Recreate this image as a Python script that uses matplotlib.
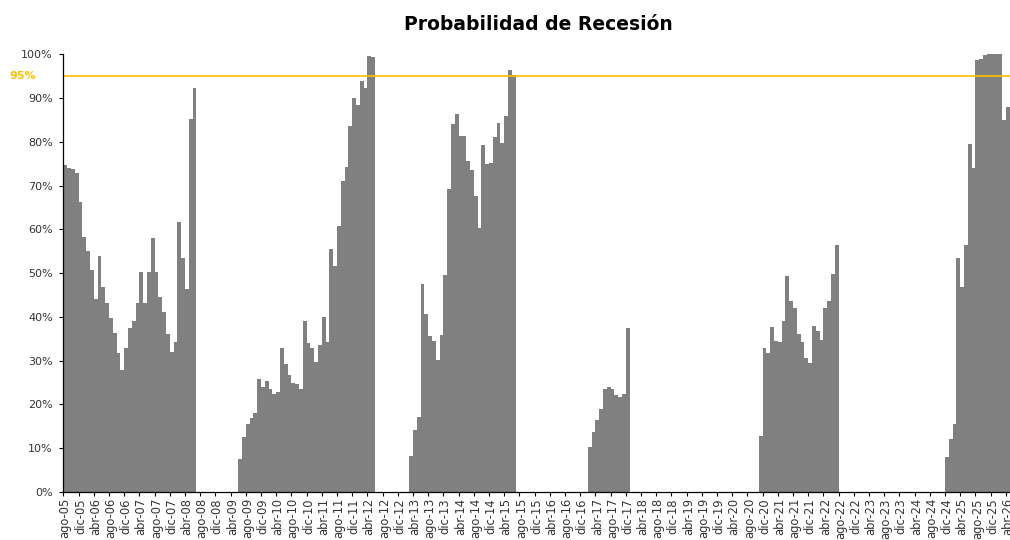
import numpy as np
import matplotlib.pyplot as plt

meses = ["ene", "feb", "mar", "abr", "may", "jun", "jul", "ago", "sep", "oct", "nov", "dic"]

# months from ago-05 to abr-26
n_meses = 249
fechas = []
for k in range(n_meses):
    m = (7 + k) % 12
    a = 2005 + (7 + k) // 12
    fechas.append(f"{meses[m]}-{a % 100:02d}")

# recession probability episodes (%), each one starts at the given month
prob_2005 = [74.7, 73.9, 73.7, 72.9, 66.2, 58.2, 55.1, 50.7, 44.0, 53.8,
             46.7, 43.2, 39.7, 36.2, 31.7, 27.8, 32.8, 37.5, 39.0, 43.2,
             50.3, 43.1, 50.3, 57.9, 50.3, 44.6, 41.2, 36.0, 32.0, 34.2,
             61.7, 53.4, 46.3, 85.1, 92.4]
prob_2009 = [7.5, 12.5, 15.5, 16.9, 17.9, 25.8, 24.0, 25.4, 23.6, 22.4,
             22.7, 32.8, 29.2, 26.7, 24.9, 24.6, 23.4, 39.1, 34.1, 32.8,
             29.7, 33.5, 39.9, 34.3, 55.5, 51.6, 60.8, 71.1, 74.2, 83.5,
             89.9, 88.5, 94.0, 92.4, 99.6, 99.3]
prob_2013 = [8.2, 14.1, 17.2, 47.4, 40.6, 35.6, 34.5, 30.1, 35.9, 49.5,
             69.2, 84.1, 86.4, 81.3, 81.3, 75.5, 73.6, 67.5, 60.4, 79.2,
             74.9, 75.2, 81.0, 84.3, 79.7, 85.9, 96.5, 95.3]
prob_2017 = [10.3, 13.7, 16.3, 18.9, 23.4, 24.0, 23.5, 22.2, 21.7, 22.3, 37.5]
prob_2020 = [12.7, 32.9, 31.8, 37.6, 34.5, 34.3, 39.0, 49.3, 43.5, 41.9,
             36.0, 34.2, 30.5, 29.4, 38.0, 36.8, 34.6, 41.9, 43.6, 49.7, 56.5]
prob_2024 = [8.0, 12.1, 15.5, 53.5, 46.9, 56.3, 79.4, 73.9, 98.7, 98.9,
             99.8, 100, 100, 100, 100, 85.0, 88.0]

episodios = [("ago-05", prob_2005), ("jun-09", prob_2009), ("mar-13", prob_2013),
             ("feb-17", prob_2017), ("nov-20", prob_2020), ("dic-24", prob_2024)]

umbral = 95

valores = np.zeros(n_meses)
for inicio, vals in episodios:
    i0 = fechas.index(inicio)
    valores[i0:i0 + len(vals)] = vals

fig = plt.figure(figsize=(10.1, 5.4), dpi=100)
ax = fig.add_axes([63.3 / 1010, 48.2 / 540, 1 - 63.3 / 1010, 437.5 / 540])

x = np.arange(n_meses)
ax.bar(x, valores, width=1.0, color="#808080", linewidth=0, antialiased=False)
ax.axhline(umbral, color="#FFC000", lw=1.2)
ax.text(-0.029, umbral, "95%", transform=ax.get_yaxis_transform(), ha="right",
        va="center", color="#FFC000", fontsize=8, fontweight="bold")

ax.set_xlim(-0.5, 248.6)
ax.set_ylim(0, 100)
ax.set_yticks(range(0, 101, 10))
ax.set_yticklabels([f"{v}%" for v in range(0, 101, 10)], fontsize=8, color="#333333")
ax.tick_params(axis="y", length=3, width=0.8, pad=4.5, direction="out")

# tick marks at group boundaries, labels at category centres
ax.set_xticks(np.arange(0, n_meses, 4) - 0.5)
ax.set_xticklabels([])
ax.tick_params(axis="x", which="major", length=3, width=0.8, direction="out")
ax.set_xticks(np.arange(0, n_meses, 4), minor=True)
ax.set_xticklabels(fechas[::4], minor=True, rotation=90, fontsize=8.3, color="#333333")
ax.tick_params(axis="x", which="minor", length=0, pad=4.5)

for s in ["top", "right"]:
    ax.spines[s].set_visible(False)
ax.spines["left"].set_linewidth(0.9)
ax.spines["bottom"].set_linewidth(0.9)

fig.text(538 / 1010, 1 - 24 / 540, "Probabilidad de Recesión", ha="center", va="center",
         fontsize=13.5, fontweight="bold")

fig.savefig("out.png", dpi=100)
